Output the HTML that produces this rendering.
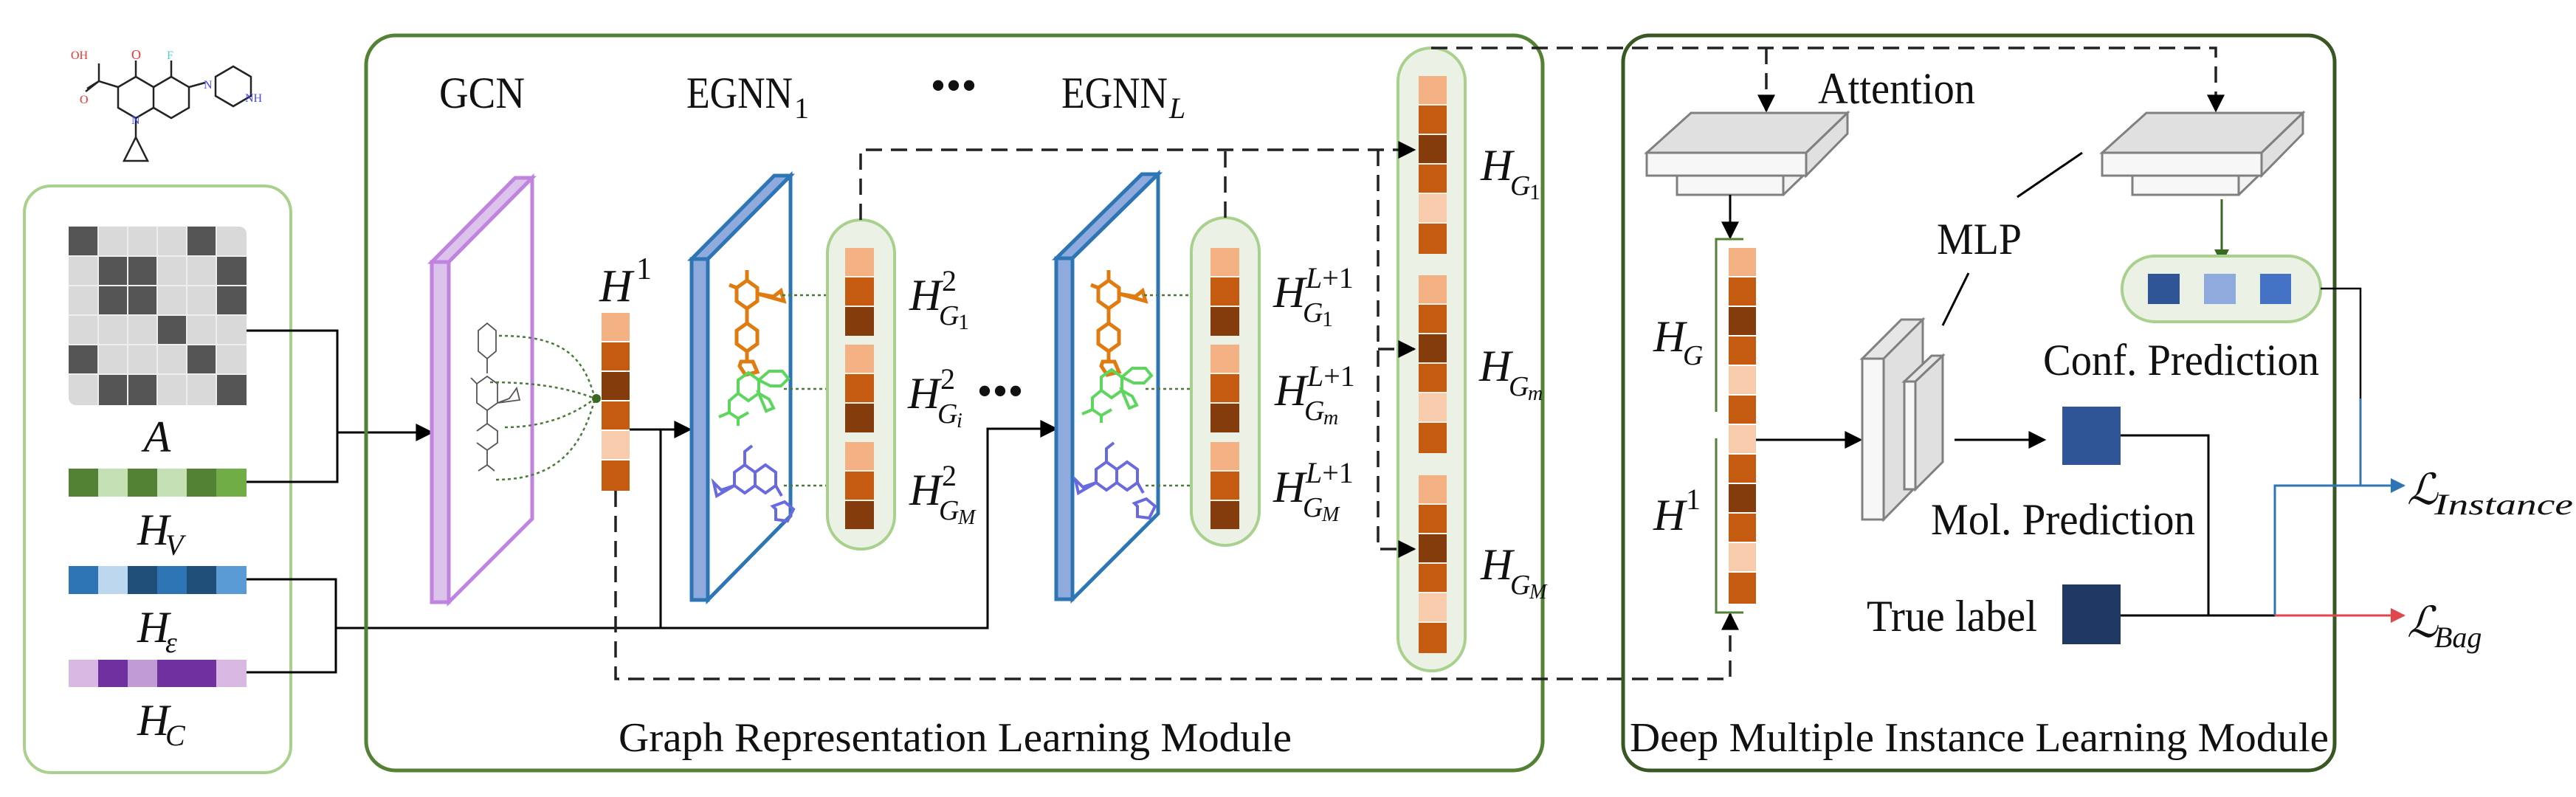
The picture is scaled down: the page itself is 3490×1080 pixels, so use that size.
<!DOCTYPE html>
<html><head><meta charset="utf-8"><style>
html,body{margin:0;padding:0;background:#fff;}
svg{display:block;font-family:"Liberation Serif","DejaVu Serif",serif;}
svg text{font-family:"Liberation Serif","DejaVu Serif",serif;fill:#111;}
.it{font-style:italic;}
</style></head><body>
<svg width="3490" height="1080" viewBox="0 0 3490 1080" xmlns="http://www.w3.org/2000/svg">
<defs>
<marker id="abig" viewBox="0 0 10 10" refX="9" refY="5" markerWidth="26" markerHeight="24" orient="auto" markerUnits="userSpaceOnUse"><path d="M0,0 L10,5 L0,10z" fill="#000"/></marker>
<marker id="ag" viewBox="0 0 10 10" refX="9" refY="5" markerWidth="22" markerHeight="20" orient="auto" markerUnits="userSpaceOnUse"><path d="M0,0 L10,5 L0,10z" fill="#3a6a22"/></marker>
<marker id="ablue" viewBox="0 0 10 10" refX="9" refY="5" markerWidth="22" markerHeight="20" orient="auto" markerUnits="userSpaceOnUse"><path d="M0,0 L10,5 L0,10z" fill="#2e75b6"/></marker>
<marker id="ared" viewBox="0 0 10 10" refX="9" refY="5" markerWidth="22" markerHeight="20" orient="auto" markerUnits="userSpaceOnUse"><path d="M0,0 L10,5 L0,10z" fill="#e0474c"/></marker>
<marker id="adot" viewBox="0 0 10 10" refX="9" refY="5" markerWidth="12" markerHeight="12" orient="auto" markerUnits="userSpaceOnUse"><path d="M0,0 L10,5 L0,10" fill="none" stroke="#4a7a3a" stroke-width="2"/></marker>
<g id="molO" fill="none" stroke-width="5">
 <path d="M0,0 l14,-10 14,10 0,18 -14,10 -14,-10z M14,28 l0,20 14,10 0,18 -14,10 -14,-10 0,-18 14,-10 M28,8 l22,4 10,-8 4,14z M14,86 l0,14 M6,100 l16,0 6,14 -16,4 -8,-12z M14,-10 l0,-14 M0,0 l-10,-4"/>
</g>
</defs>

<!-- molecule top-left -->
<g fill="none" stroke="#222" stroke-width="2.5">
 <path d="M160,118 l24,-14 24,14 0,28 -24,14 -24,-14z"/>
 <path d="M208,118 l24,-14 24,14 0,28 -24,14 -24,-14"/>
 <path d="M184,104 l0,-22"/>
 <path d="M160,118 l-26,-8 -18,14 M134,110 l0,-24 M134,110 l-16,10"/>
 <path d="M184,160 l0,26 M184,186 l-16,32 32,0z"/>
 <path d="M256,118 l22,-6 M292,104 l24,-14 24,14 0,26 -24,14 -24,-14z"/>
 <path d="M232,104 l0,-22"/>
</g>
<text x="178" y="80" font-size="18" style="fill:#e33">O</text>
<text x="96" y="80" font-size="16" style="fill:#e33">OH</text>
<text x="108" y="140" font-size="16" style="fill:#e33">O</text>
<text x="226" y="80" font-size="16" style="fill:#5cc">F</text>
<text x="178" y="168" font-size="16" style="fill:#44f">N</text>
<text x="276" y="120" font-size="16" style="fill:#44f">N</text>
<text x="332" y="138" font-size="16" style="fill:#44f">NH</text>

<!-- left input panel -->
<rect x="33" y="252" width="361" height="795" rx="36" fill="none" stroke="#a9d18e" stroke-width="4"/>
<rect x="93" y="307" width="241" height="242" rx="10" fill="#d9d9d9"/>
<g fill="#555">
 <rect x="93" y="307" width="40" height="40"/><rect x="253" y="307" width="40" height="40"/>
 <rect x="133" y="347" width="40" height="40"/><rect x="173" y="347" width="40" height="40"/><rect x="293" y="347" width="41" height="40"/>
 <rect x="133" y="387" width="40" height="40"/><rect x="173" y="387" width="40" height="40"/><rect x="293" y="387" width="41" height="40"/>
 <rect x="213" y="427" width="40" height="40"/>
 <rect x="93" y="467" width="40" height="40"/><rect x="253" y="467" width="40" height="40"/>
 <rect x="133" y="507" width="40" height="42"/><rect x="173" y="507" width="40" height="42"/><rect x="293" y="507" width="41" height="42"/>
</g>
<g stroke="#eee" stroke-width="2">
 <path d="M133,307v242M173,307v242M213,307v242M253,307v242M293,307v242M93,347h241M93,387h241M93,427h241M93,467h241M93,507h241"/>
</g>
<text x="213" y="612" font-size="60" text-anchor="middle" class="it">A</text>
<g>
 <rect x="93" y="635" width="40" height="38" fill="#548235"/><rect x="133" y="635" width="40" height="38" fill="#c5e0b4"/>
 <rect x="173" y="635" width="40" height="38" fill="#548235"/><rect x="213" y="635" width="40" height="38" fill="#c5e0b4"/>
 <rect x="253" y="635" width="40" height="38" fill="#548235"/><rect x="293" y="635" width="41" height="38" fill="#70ad47"/>
 <rect x="93" y="767" width="40" height="38" fill="#2e75b6"/><rect x="133" y="767" width="40" height="38" fill="#bdd7ee"/>
 <rect x="173" y="767" width="40" height="38" fill="#1f4e79"/><rect x="213" y="767" width="40" height="38" fill="#2e75b6"/>
 <rect x="253" y="767" width="40" height="38" fill="#1f4e79"/><rect x="293" y="767" width="41" height="38" fill="#5b9bd5"/>
 <rect x="93" y="894" width="40" height="37" fill="#d9b8e3"/><rect x="133" y="894" width="40" height="37" fill="#7030a0"/>
 <rect x="173" y="894" width="40" height="37" fill="#c09bd4"/><rect x="213" y="894" width="40" height="37" fill="#7030a0"/>
 <rect x="253" y="894" width="40" height="37" fill="#7030a0"/><rect x="293" y="894" width="41" height="37" fill="#d9b8e3"/>
</g>
<text x="186" y="738" font-size="60" class="it">H</text><text x="224" y="752" font-size="40" class="it">V</text>
<text x="186" y="870" font-size="60" class="it">H</text><text x="224" y="884" font-size="40" class="it">ε</text>
<text x="186" y="996" font-size="60" class="it">H</text><text x="224" y="1010" font-size="40" class="it">C</text>

<!-- left connectors -->
<g fill="none" stroke="#000" stroke-width="3">
 <path d="M334,448 H457 V653 H334"/>
 <path d="M457,586 H585" marker-end="url(#abig)"/>
 <path d="M334,785 H455 V911 H334"/>
 <path d="M455,851 H1338 V581 H1431" marker-end="url(#abig)"/>
 <path d="M853,582 H935" marker-end="url(#abig)"/>
 <path d="M895,582 V851"/>
</g>

<!-- GRLM box -->
<rect x="496" y="48" width="1594" height="996" rx="40" fill="none" stroke="#548235" stroke-width="5"/>
<text x="595" y="146" font-size="60" textLength="116" lengthAdjust="spacingAndGlyphs">GCN</text>
<text x="930" y="146" font-size="60" textLength="144" lengthAdjust="spacingAndGlyphs">EGNN</text><text x="1076" y="160" font-size="40">1</text>
<text x="1292" y="136" font-size="60" text-anchor="middle">•••</text>
<text x="1438" y="146" font-size="60" textLength="144" lengthAdjust="spacingAndGlyphs">EGNN</text><text x="1584" y="160" font-size="40" class="it">L</text>

<!-- GCN plane -->
<g stroke="#c084e0" stroke-width="5" stroke-linejoin="miter">
 <polygon points="585,355 698,241 721,241 608,355" fill="#dcc3ec"/>
 <polygon points="585,355 608,355 608,816 585,816" fill="#dcc3ec"/>
 <polygon points="608,355 721,241 721,703 608,816" fill="#fff"/>
</g>
<g fill="none" stroke="#555" stroke-width="1.8">
 <path d="M648,448 l12,-10 12,10 0,28 -12,10 -12,-10z M660,486 v20 M646,520 l14,-10 14,10 0,26 -14,10 -14,-10z M646,520 l-8,-8 M674,546 l16,-6 10,-14 4,16z M660,556 v18 M646,584 l14,-10 14,10 0,16 -14,10 -14,-10 M660,610 v20 l-12,8 M660,630 l10,8"/>
</g>
<g fill="none" stroke="#4a7a3a" stroke-width="2.5" stroke-dasharray="4,4">
 <path d="M676,455 C760,455 790,480 806,540"/>
 <path d="M664,518 C740,518 780,530 806,540"/>
 <path d="M684,579 C740,579 780,560 806,540"/>
 <path d="M672,650 C760,650 790,600 806,540"/>
</g>
<circle cx="808" cy="540" r="6" fill="#3a6a22"/>

<!-- H1 -->
<text x="812" y="408" font-size="62" class="it">H</text><text x="862" y="378" font-size="42">1</text>
<g>
 <rect x="815" y="424" width="38" height="38" fill="#f4b183"/><rect x="815" y="464" width="38" height="38" fill="#c55a11"/>
 <rect x="815" y="504" width="38" height="38" fill="#843c0c"/><rect x="815" y="544" width="38" height="38" fill="#c55a11"/>
 <rect x="815" y="584" width="38" height="38" fill="#f8cbad"/><rect x="815" y="624" width="38" height="41" fill="#c55a11"/>
</g>

<!-- EGNN planes -->
<g stroke="#2e75b6" stroke-width="5">
 <polygon points="937,351 1049,238 1071,238 959,351" fill="#8faadc"/>
 <polygon points="937,351 959,351 959,813 937,813" fill="#8faadc"/>
 <polygon points="959,351 1071,238 1071,699 959,813" fill="#fff"/>
 <polygon points="1431,350 1547,236 1569,236 1453,350" fill="#8faadc"/>
 <polygon points="1431,350 1453,350 1453,812 1431,812" fill="#8faadc"/>
 <polygon points="1453,350 1569,236 1569,696 1453,812" fill="#fff"/>
</g>
<use href="#molO" x="998" y="390" stroke="#e07b10"/>
<use href="#molO" x="1488" y="390" stroke="#e07b10"/>
<g id="molG" fill="none" stroke="#5cd65c" stroke-width="4">
 <path d="M1000,515 l14,-10 14,10 0,18 -14,10 -14,-10z M1000,533 l-12,10 0,16 12,8 14,-8 M1028,515 l14,-12 18,0 8,10 -10,10 -14,0z M1028,533 l14,8 6,12 -10,4z M988,559 l-14,6 M1000,567 v10"/>
</g>
<use href="#molG" x="492" y="-4"/>
<g id="molB" fill="none" stroke="#6a6ae0" stroke-width="4">
 <path d="M995,640 l14,-10 14,10 0,18 -14,10 -14,-10z M1023,640 l14,-10 14,10 0,18 -14,10 -14,-10 M1009,630 v-18 l10,-8 M995,658 l-18,6 -10,-10 4,18z M1051,658 l8,14 M1051,690 l-4,-4 l16,-6 12,10 -8,16 -16,-2z"/>
</g>
<use href="#molB" x="490" y="-4"/>

<!-- dotted arrows -->
<g fill="none" stroke="#4a7a3a" stroke-width="2.5" stroke-dasharray="4,4">
 <path d="M1060,400 H1142" marker-end="url(#adot)"/>
 <path d="M1062,527 H1142" marker-end="url(#adot)"/>
 <path d="M1062,658 H1142" marker-end="url(#adot)"/>
 <path d="M1550,400 H1638" marker-end="url(#adot)"/>
 <path d="M1552,527 H1638" marker-end="url(#adot)"/>
 <path d="M1552,658 H1638" marker-end="url(#adot)"/>
</g>

<!-- pills 1 and 2 -->
<rect x="1121" y="298" width="91" height="446" rx="45" fill="#ebf1e4" stroke="#a9d18e" stroke-width="4"/>
<rect x="1614" y="295" width="92" height="444" rx="46" fill="#ebf1e4" stroke="#a9d18e" stroke-width="4"/>
<g id="cells3">
 <rect x="1145" y="336" width="39" height="38" fill="#f4b183"/><rect x="1145" y="376" width="39" height="38" fill="#c55a11"/><rect x="1145" y="416" width="39" height="39" fill="#843c0c"/>
 <rect x="1145" y="467" width="39" height="38" fill="#f4b183"/><rect x="1145" y="507" width="39" height="38" fill="#c55a11"/><rect x="1145" y="547" width="39" height="39" fill="#843c0c"/>
 <rect x="1145" y="599" width="39" height="38" fill="#f4b183"/><rect x="1145" y="639" width="39" height="38" fill="#c55a11"/><rect x="1145" y="679" width="39" height="38" fill="#843c0c"/>
</g>
<use href="#cells3" x="495"/>

<!-- pill labels -->
<g font-size="60">
 <text x="1232" y="420" class="it">H</text><text x="1276" y="394" font-size="40">2</text><text x="1272" y="440" font-size="38" class="it">G</text><text x="1298" y="446" font-size="30">1</text>
 <text x="1230" y="553" class="it">H</text><text x="1274" y="527" font-size="40">2</text><text x="1270" y="573" font-size="38" class="it">G</text><text x="1296" y="579" font-size="28" class="it">i</text>
 <text x="1232" y="684" class="it">H</text><text x="1276" y="658" font-size="40">2</text><text x="1272" y="704" font-size="38" class="it">G</text><text x="1298" y="710" font-size="28" class="it">M</text>
 <text x="1725" y="416" class="it">H</text><text x="1769" y="390" font-size="40"><tspan class="it">L</tspan>+1</text><text x="1765" y="436" font-size="38" class="it">G</text><text x="1791" y="442" font-size="30">1</text>
 <text x="1727" y="549" class="it">H</text><text x="1771" y="523" font-size="40"><tspan class="it">L</tspan>+1</text><text x="1767" y="569" font-size="38" class="it">G</text><text x="1793" y="575" font-size="28" class="it">m</text>
 <text x="1725" y="680" class="it">H</text><text x="1769" y="654" font-size="40"><tspan class="it">L</tspan>+1</text><text x="1765" y="700" font-size="38" class="it">G</text><text x="1791" y="706" font-size="28" class="it">M</text>
</g>
<text x="1355" y="550" font-size="60" text-anchor="middle">•••</text>

<!-- pill 3 -->
<rect x="1894" y="65" width="91" height="844" rx="45" fill="#ebf1e4" stroke="#a9d18e" stroke-width="4"/>
<g id="cells6">
 <rect x="1922" y="103" width="38" height="38" fill="#f4b183"/><rect x="1922" y="143" width="38" height="38" fill="#c55a11"/>
 <rect x="1922" y="183" width="38" height="38" fill="#843c0c"/><rect x="1922" y="223" width="38" height="38" fill="#c55a11"/>
 <rect x="1922" y="263" width="38" height="38" fill="#f8cbad"/><rect x="1922" y="303" width="38" height="41" fill="#c55a11"/>
</g>
<use href="#cells6" y="270"/>
<use href="#cells6" y="541"/>
<g font-size="60">
 <text x="2006" y="244" class="it">H</text><text x="2046" y="264" font-size="38" class="it">G</text><text x="2072" y="270" font-size="30">1</text>
 <text x="2004" y="516" class="it">H</text><text x="2044" y="536" font-size="38" class="it">G</text><text x="2070" y="542" font-size="28" class="it">m</text>
 <text x="2006" y="785" class="it">H</text><text x="2046" y="805" font-size="38" class="it">G</text><text x="2072" y="811" font-size="28" class="it">M</text>
</g>

<!-- dashed connectors -->
<g fill="none" stroke="#222" stroke-width="3.5" stroke-dasharray="22,12">
 <path d="M1166,298 V203 H1916" marker-end="url(#abig)"/>
 <path d="M1660,295 V203"/>
 <path d="M1867,203 V744 H1916" marker-end="url(#abig)"/>
 <path d="M1867,473 H1916" marker-end="url(#abig)"/>
 <path d="M1939,65 H3002 V150" marker-end="url(#abig)"/>
 <path d="M2393,65 V150" marker-end="url(#abig)"/>
 <path d="M834,665 V920 H2344 V832" marker-end="url(#abig)"/>
</g>

<!-- DMIL box -->
<rect x="2199" y="48" width="964" height="996" rx="36" fill="none" stroke="#385723" stroke-width="5"/>
<text x="2463" y="140" font-size="60" textLength="213" lengthAdjust="spacingAndGlyphs">Attention</text>

<g id="blk" stroke="#808080" stroke-width="3" fill="#e0e0e0">
 <polygon points="2272,238 2416,238 2443,219 2443,238 2416,264 2272,264" fill="#f2f2f2"/>
 <rect x="2272" y="238" width="144" height="26" fill="#f7f7f7"/>
 <polygon points="2231,207 2291,153 2503,153 2447,207"/>
 <polygon points="2447,207 2503,153 2503,181 2447,238"/>
 <rect x="2231" y="207" width="216" height="31" fill="#f7f7f7"/>
</g>
<use href="#blk" x="617"/>

<g fill="none" stroke="#000" stroke-width="3">
 <path d="M2344,264 V322" marker-end="url(#abig)"/>
 <path d="M2379,596 H2521" marker-end="url(#abig)"/>
 <path d="M2648,596 H2770" marker-end="url(#abig)"/>
 <path d="M2632,441 L2667,370"/>
 <path d="M2733,267 L2821,207"/>
 <path d="M2873,590 H2992 V834"/>
 <path d="M2873,834 H3082"/>
</g>
<path d="M3010,270 V356" stroke="#3a6a22" stroke-width="3" fill="none" marker-end="url(#ag)"/>

<!-- bracket and bar -->
<g fill="none" stroke="#548235" stroke-width="3">
 <path d="M2362,324 H2325 V558"/>
 <path d="M2325,594 V830 H2362"/>
</g>
<g>
 <rect x="2342" y="336" width="37" height="38" fill="#f4b183"/><rect x="2342" y="376" width="37" height="38" fill="#c55a11"/>
 <rect x="2342" y="416" width="37" height="38" fill="#843c0c"/><rect x="2342" y="456" width="37" height="38" fill="#c55a11"/>
 <rect x="2342" y="496" width="37" height="38" fill="#f8cbad"/><rect x="2342" y="536" width="37" height="38" fill="#c55a11"/>
 <rect x="2342" y="576" width="37" height="38" fill="#f8cbad"/><rect x="2342" y="616" width="37" height="38" fill="#c55a11"/>
 <rect x="2342" y="656" width="37" height="38" fill="#843c0c"/><rect x="2342" y="696" width="37" height="38" fill="#c55a11"/>
 <rect x="2342" y="736" width="37" height="38" fill="#f8cbad"/><rect x="2342" y="776" width="37" height="42" fill="#c55a11"/>
</g>
<text x="2240" y="476" font-size="60" class="it">H</text><text x="2280" y="494" font-size="38" class="it">G</text>
<text x="2240" y="718" font-size="60" class="it">H</text><text x="2284" y="690" font-size="40">1</text>

<!-- MLP -->
<g stroke="#808080" stroke-width="3" fill="#e6e6e6">
 <polygon points="2523,486 2576,433 2605,433 2552,486"/>
 <polygon points="2552,486 2605,433 2605,650 2552,704" fill="#e0e0e0"/>
 <rect x="2523" y="486" width="29" height="218" fill="#f7f7f7"/>
 <polygon points="2580,517 2617,482 2632,482 2595,517"/>
 <polygon points="2595,517 2632,482 2632,626 2595,663" fill="#e0e0e0"/>
 <rect x="2580" y="517" width="15" height="146" fill="#f7f7f7"/>
</g>
<text x="2624" y="344" font-size="60" textLength="115" lengthAdjust="spacingAndGlyphs">MLP</text>

<rect x="2794" y="551" width="79" height="79" fill="#2f5597"/>
<rect x="2794" y="792" width="79" height="81" fill="#203864"/>
<text x="2616" y="724" font-size="60" textLength="358" lengthAdjust="spacingAndGlyphs">Mol. Prediction</text>
<text x="2529" y="855" font-size="60" textLength="231" lengthAdjust="spacingAndGlyphs">True label</text>

<rect x="2875" y="347" width="269" height="89" rx="44" fill="#ebf1e4" stroke="#a9d18e" stroke-width="4"/>
<rect x="2910" y="371" width="43" height="41" fill="#2f5597"/>
<rect x="2986" y="371" width="43" height="41" fill="#8faadc"/>
<rect x="3062" y="371" width="42" height="41" fill="#4472c4"/>
<text x="2768" y="508" font-size="60" textLength="374" lengthAdjust="spacingAndGlyphs">Conf. Prediction</text>

<!-- loss lines -->
<path d="M3144,391 H3198 V658" fill="none" stroke="#000" stroke-width="2.5"/>
<path d="M3198,540 V658" fill="none" stroke="#2e75b6" stroke-width="2.5"/>
<path d="M3082,834 V658 H3257" fill="none" stroke="#2e75b6" stroke-width="3" marker-end="url(#ablue)"/>
<path d="M3082,834 H3257" fill="none" stroke="#e0474c" stroke-width="3" marker-end="url(#ared)"/>
<text x="3261" y="683" font-size="58" class="it">ℒ</text><text x="3298" y="697" font-size="40" class="it" textLength="188" lengthAdjust="spacingAndGlyphs">Instance</text>
<text x="3261" y="863" font-size="58" class="it">ℒ</text><text x="3298" y="877" font-size="40" class="it">Bag</text>

<text x="838" y="1018" font-size="56" textLength="912" lengthAdjust="spacingAndGlyphs">Graph Representation Learning Module</text>
<text x="2208" y="1018" font-size="56" textLength="947" lengthAdjust="spacingAndGlyphs">Deep Multiple Instance Learning Module</text>
</svg>
</body></html>
